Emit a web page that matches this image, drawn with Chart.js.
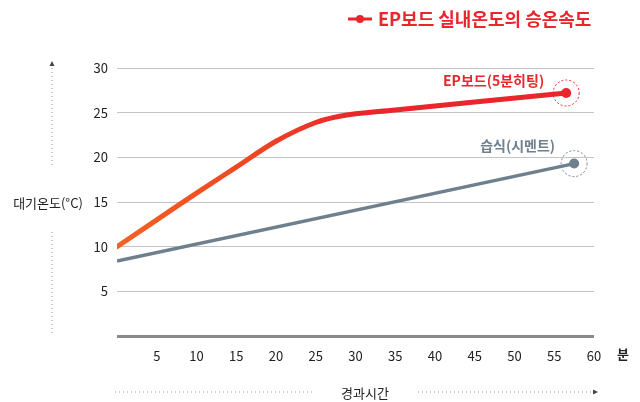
<!DOCTYPE html>
<html>
<head>
<meta charset="utf-8">
<script src="https://cdn.jsdelivr.net/npm/chart.js@4"></script>
<style>
  html, body { margin: 0; padding: 0; background: #fff; }
  #wrap { width: 640px; height: 402px; }
</style>
</head>
<body>
<div id="wrap"><canvas id="chart" width="640" height="402"></canvas></div>
<script>
// values
const epMinutes = [0, 5, 10, 15, 20, 25, 28, 35, 45, 56.5];
const epTemps = [10, 13.0, 16.0, 18.9, 21.8, 23.9, 24.6, 25.3, 26.2, 27.2];
const wetMinutes = [0, 57.5];
const wetTemps = [8.4, 19.3];
const seriesNames = ['EP보드(5분히팅)', '습식(시멘트)'];
const legendTitle = 'EP보드 실내온도의 승온속도';
const yTitle = '대기온도(°C)';
const xTitle = '경과시간';
const xUnit = '분';

const RED = '#e8262b';
const ORANGE = '#f26322';
const GRAY = '#6e7f8d';
const FONT = "'Liberation Sans Narrow', 'Noto Sans CJK KR', sans-serif";

function toPoints(xs, ys) {
  return xs.map((x, i) => ({ x: x, y: ys[i] }));
}

const decor = {
  id: 'decor',
  afterDatasetsDraw(chart) {
    const ctx = chart.ctx;
    ctx.save();

    // dashed halos around the end points + end labels
    chart.data.datasets.forEach((ds, i) => {
      const meta = chart.getDatasetMeta(i);
      const pt = meta.data[meta.data.length - 1];
      ctx.setLineDash([2, 2]);
      ctx.lineWidth = 1;
      ctx.strokeStyle = ds.haloColor;
      ctx.beginPath();
      ctx.arc(pt.x, pt.y, 13, 0, Math.PI * 2);
      ctx.stroke();
      ctx.setLineDash([]);
      ctx.fillStyle = ds.haloColor;
      ctx.font = 'bold 14px ' + FONT;
      ctx.textAlign = 'right';
      ctx.textBaseline = 'middle';
      ctx.fillText(ds.label, pt.x - ds.labelDx, pt.y - ds.labelDy);
    });

    // legend at top
    ctx.strokeStyle = RED;
    ctx.lineWidth = 3;
    ctx.beginPath();
    ctx.moveTo(348, 19);
    ctx.lineTo(372, 19);
    ctx.stroke();
    ctx.fillStyle = RED;
    ctx.beginPath();
    ctx.arc(360, 19, 4, 0, Math.PI * 2);
    ctx.fill();
    ctx.font = 'bold 18px ' + FONT;
    ctx.textAlign = 'left';
    ctx.textBaseline = 'middle';
    ctx.fillText(legendTitle, 378, 19);

    // y axis title with dotted arrow line
    ctx.fillStyle = '#222';
    ctx.font = '13px ' + FONT;
    ctx.textAlign = 'center';
    ctx.fillText(yTitle, 48, 203);
    ctx.strokeStyle = '#999';
    ctx.lineWidth = 1;
    ctx.setLineDash([1, 3]);
    ctx.beginPath();
    ctx.moveTo(52, 68); ctx.lineTo(52, 168);
    ctx.moveTo(52, 232); ctx.lineTo(52, 336);
    ctx.moveTo(115, 392); ctx.lineTo(315, 392);
    ctx.moveTo(418, 392); ctx.lineTo(593, 392);
    ctx.stroke();
    ctx.setLineDash([]);
    ctx.fillStyle = '#444';
    ctx.beginPath();
    ctx.moveTo(49.5, 66); ctx.lineTo(52, 61); ctx.lineTo(54.5, 66); ctx.closePath();
    ctx.fill();
    ctx.beginPath();
    ctx.moveTo(593, 389.5); ctx.lineTo(598, 392); ctx.lineTo(593, 394.5); ctx.closePath();
    ctx.fill();

    // x axis title and unit
    ctx.fillStyle = '#222';
    ctx.font = '13px ' + FONT;
    ctx.fillText(xTitle, 365, 393);
    ctx.font = 'bold 13px ' + FONT;
    ctx.fillText(xUnit, 623, 354);
    ctx.restore();
  }
};

function redGradient(context) {
  const area = context.chart.chartArea;
  if (!area) return RED;
  const g = context.chart.ctx.createLinearGradient(area.left, 0, area.right, 0);
  g.addColorStop(0, ORANGE);
  g.addColorStop(0.3, '#ee4424');
  g.addColorStop(0.5, RED);
  g.addColorStop(1, RED);
  return g;
}

function lastOnly(size) {
  return (ctx) => ctx.dataIndex === ctx.dataset.data.length - 1 ? size : 0;
}

new Chart(document.getElementById('chart').getContext('2d'), {
  type: 'line',
  data: {
    datasets: [{
      label: seriesNames[0],
      data: toPoints(epMinutes, epTemps),
      borderColor: redGradient,
      backgroundColor: RED,
      haloColor: RED,
      labelDx: 22,
      labelDy: 12,
      borderWidth: 5,
      cubicInterpolationMode: 'monotone',
      pointRadius: lastOnly(5),
      pointBackgroundColor: RED,
      pointBorderWidth: 0,
      borderCapStyle: 'round',
    }, {
      label: seriesNames[1],
      data: toPoints(wetMinutes, wetTemps),
      borderColor: GRAY,
      backgroundColor: GRAY,
      haloColor: GRAY,
      labelDx: 19,
      labelDy: 18,
      borderWidth: 3.5,
      pointRadius: lastOnly(5),
      pointBackgroundColor: GRAY,
      pointBorderWidth: 0,
    }]
  },
  options: {
    responsive: false,
    animation: false,
    events: [],
    layout: { padding: { left: 0, right: 46, top: 68, bottom: 36 } },
    plugins: { legend: { display: false }, tooltip: { enabled: false } },
    scales: {
      x: {
        type: 'linear',
        min: 0,
        max: 60,
        border: { display: false },
        grid: { display: false, drawTicks: false },
        ticks: {
          stepSize: 5,
          padding: 12,
          color: '#222',
          font: { family: FONT, size: 13 },
          maxRotation: 0,
          callback: (v) => v === 0 ? '' : v,
        },
        afterFit(scale) { scale.height = 30; },
      },
      y: {
        min: 0,
        max: 30,
        border: { display: false },
        grid: {
          drawTicks: false,
          color: (c) => c.tick.value === 0 ? '#8a8a8a' : '#c4c4c4',
          lineWidth: (c) => c.tick.value === 0 ? 3 : 1,
        },
        ticks: {
          stepSize: 5,
          padding: 9,
          color: '#222',
          font: { family: FONT, size: 13 },
          callback: (v) => v === 0 ? '' : v,
        },
        afterFit(scale) { scale.width = 117; },
      }
    }
  },
  plugins: [decor]
});
</script>
</body>
</html>
